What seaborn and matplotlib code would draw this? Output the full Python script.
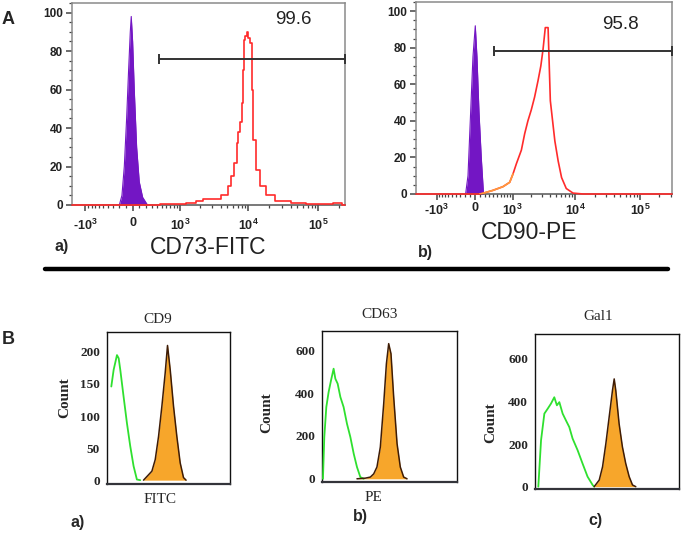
import matplotlib
matplotlib.use('Agg')
import seaborn as sns
import matplotlib.pyplot as plt
from matplotlib.lines import Line2D
from matplotlib.ticker import FixedLocator, MultipleLocator

# ---------------- data ----------------
# Panel A: flow cytometry (biexponential axis), % of events in gate
flow_xticks = [-1000, 0, 1000, 10000, 100000]
flow_xticklabels = ['-$10^{3}$', '0', '$10^{3}$', '$10^{4}$', '$10^{5}$']

# a) CD73-FITC
cd73_iso_x = [-200, -159, -123, -88, -59, -34, -20, 0, 24, 59, 98, 149, 226]
cd73_iso_y = [0, 5, 20, 45, 70, 90, 98, 85, 60, 30, 12, 4, 0]
cd73_x = [-1600, 300, 600, 1000, 1500, 2000, 2450, 3420, 4770, 5330, 5950, 6650,
          6990, 7400, 7800, 8270, 8500, 8700, 9200, 9730, 10300, 10900, 11500,
          12100, 13500, 16000, 20000, 27500, 53000, 80000, 120000, 200000, 240000]
cd73_y = [0, 0, 0.5, 0.5, 1, 2, 3, 3, 5, 10, 15, 22, 32, 38, 43, 53, 70, 86, 88,
          90, 87, 84, 60, 34, 18, 10, 5, 2, 1, 0.5, 0.5, 1, 0]
cd73_gate = [428, 240000]
cd73_gate_y = 76
cd73_pct = '99.6'

# b) CD90-PE
cd90_iso_x = [-181, -132, -86, -33, 13, 46, 86, 132, 178]
cd90_iso_y = [0, 10, 40, 75, 92, 75, 45, 20, 0]
cd90_x = [-2200, 100, 168, 388, 657, 885, 1015, 1160, 1410, 1600, 1805, 2045, 2310,
          2620, 2900, 3140, 3410, 3770, 4090, 4810, 5420, 6120, 7240, 9220, 13200,
          315000]
cd90_y = [0, 0, 0.4, 2, 4, 6.4, 11, 16.5, 24, 33, 40, 46, 53, 62, 70, 79, 91, 91,
          51, 29, 18, 9, 3, 0.5, 0, 0]
cd90_n_low = 7   # first points drawn in orange
cd90_gate = [403, 315000]
cd90_gate_y = 78
cd90_pct = '95.8'

# Panel B: exosome markers, control (green) vs stained (orange)
cd9_ctrl_x = [3.5, 5.4, 8.1, 9.5, 10.8, 13.5, 16.2, 18.9, 21.6, 24.3, 27.0]
cd9_ctrl_y = [146, 172, 195, 190, 172, 130, 89, 53, 22, 1, 0]
cd9_pos_x = [29.7, 36.5, 39.2, 41.9, 44.6, 47.3, 49.2, 51.4, 54.1, 56.8, 59.5, 62.2, 64.3]
cd9_pos_y = [0, 14, 32, 68, 115, 167, 210, 172, 115, 68, 27, 4, 0]

cd63_ctrl_x = [0.7, 1.7, 3.2, 4.9, 6.7, 8.6, 9.9, 11.6, 13.6, 16.0, 18.5, 21.0,
               23.5, 25.9, 28.4, 30.9]
cd63_ctrl_y = [0, 195, 335, 405, 460, 514, 467, 444, 382, 335, 257, 195, 117, 55, 8, 0]
cd63_pos_x = [25.9, 32.1, 35.8, 38.3, 40.7, 43.2, 45.7, 47.7, 49.4, 51.1, 53.1,
              55.6, 58.0, 60.5, 63.0]
cd63_pos_y = [0, 3, 8, 23, 55, 148, 350, 537, 631, 584, 382, 164, 55, 8, 0]

gal1_ctrl_x = [2.3, 4.2, 6.5, 8.8, 11.1, 13.4, 15.2, 16.9, 19.2, 21.5, 23.8, 26.1,
               29.6, 33.0, 36.5, 40.0, 41.1]
gal1_ctrl_y = [0, 218, 343, 366, 390, 420, 382, 397, 343, 311, 280, 226, 171, 109,
               47, 8, 0]
gal1_pos_x = [41.1, 44.6, 46.9, 49.2, 51.5, 53.8, 55.0, 56.1, 58.4, 60.7, 63.0,
              65.4, 67.7, 70.0]
gal1_pos_y = [0, 31, 93, 202, 327, 452, 506, 452, 296, 187, 109, 47, 8, 0]

# ---------------- style ----------------
sns.set_style('white')
plt.rcParams['font.family'] = ['Liberation Sans', 'DejaVu Sans']
plt.rcParams['mathtext.default'] = 'regular'

PURPLE = '#7316C4'
RED = '#FF2B2B'
ORANGE_LINE = '#FF9A3C'
GREEN = '#2FE02F'
FILL = '#F7A62B'
BROWN = '#3E1C06'

fig = plt.figure(figsize=(6.85, 5.35), dpi=100)
W, H = 685.0, 535.0


def rect(left, top, right, bottom):
    return [left / W, 1 - bottom / H, (right - left) / W, (bottom - top) / H]


def flow_panel(box, lin_w, xlim, iso_x, iso_y, x, y, n_low, steps, gate, gate_y,
               pct, pct_pos, xlabel, lab_pos, xpad):
    ax = fig.add_axes(box)
    ax.set_xscale('asinh', linear_width=lin_w)
    ax.fill_between(iso_x, iso_y, color=PURPLE, lw=0, zorder=2)
    sns.lineplot(x=iso_x, y=iso_y, ax=ax, color=PURPLE, lw=0.8, zorder=2)
    ds = 'steps-mid' if steps else 'default'
    sns.lineplot(x=x, y=y, ax=ax, color=RED, lw=1.2, drawstyle=ds, zorder=3,
                 clip_on=False)
    if n_low:
        sns.lineplot(x=x[1:n_low], y=y[1:n_low], ax=ax, color=ORANGE_LINE,
                     lw=1.2, zorder=4)
    ax.plot(gate, [gate_y, gate_y], color='#333333', lw=1.4, marker='|', ms=7,
            mew=1.4, clip_on=False, zorder=5)
    ax.text(pct_pos[0], pct_pos[1], pct, transform=ax.transAxes, ha='center',
            va='center', fontsize=13.5, color='#222222')
    ax.set_xlim(xlim)
    ax.set_ylim(0, 105)
    ax.xaxis.set_major_locator(FixedLocator(flow_xticks))
    ax.set_xticklabels(flow_xticklabels)
    minor = ([-k * 100 for k in range(1, 10)] + [k * 100 for k in range(1, 10)] +
             [m * 10 ** k for k in (3, 4, 5) for m in range(2, 10)])
    ax.xaxis.set_minor_locator(FixedLocator([v for v in minor if xlim[0] < v < xlim[1]]))
    ax.set_yticks([0, 20, 40, 60, 80, 100])
    ax.yaxis.set_minor_locator(MultipleLocator(5))
    ax.tick_params(which='major', direction='out', length=4.5, width=1.1,
                   color='#444444', labelsize=8.5, labelcolor='#222222', pad=2,
                   bottom=True, left=True)
    ax.tick_params(axis='x', which='major', pad=xpad, labelsize=9)
    ax.tick_params(which='minor', direction='out', length=2.5, width=0.9,
                   color='#444444', bottom=True, left=True)
    for lab in ax.get_xticklabels() + ax.get_yticklabels():
        lab.set_fontweight('bold')
    ax.set_xlabel(xlabel, fontsize=16.5, color='#222222', va='center')
    ax.xaxis.set_label_coords(*lab_pos)
    ax.set_ylabel('')
    for s in ax.spines.values():
        s.set_color('#8a8a8a')
        s.set_linewidth(1.1)
    ax.spines['bottom'].set_color('#555555')
    return ax


flow_panel(rect(72, 3, 345, 205), 444, (-1600, 240000), cd73_iso_x, cd73_iso_y,
           cd73_x, cd73_y, 0, True, cd73_gate, cd73_gate_y, cd73_pct,
           (0.81, 0.916), 'CD73-FITC', (0.5, -0.212), 4.5)
flow_panel(rect(416, 2, 672, 194), 552, (-2200, 315000), cd90_iso_x, cd90_iso_y,
           cd90_x, cd90_y, cd90_n_low, False, cd90_gate, cd90_gate_y, cd90_pct,
           (0.797, 0.885), 'CD90-PE', (0.44, -0.203), 1.5)

SERIF = ['Liberation Serif', 'DejaVu Serif']


def exo_panel(box, ylim, yticks, cx, cy, px, py, title, title_x, title_pad,
              xlabel, xlab_x, ylab_pos):
    ax = fig.add_axes(box)
    sns.lineplot(x=cx, y=cy, ax=ax, color=GREEN, lw=1.3, zorder=3)
    ax.fill_between(px, py, color=FILL, lw=0, zorder=2)
    sns.lineplot(x=px, y=py, ax=ax, color=BROWN, lw=1.1, zorder=4)
    ax.set_xlim(0, 100)
    ax.set_ylim(ylim)
    ax.set_xticks([])
    ax.set_yticks(yticks)
    ax.tick_params(axis='y', length=0, pad=5, labelsize=9.5)
    for lab in ax.get_yticklabels():
        lab.set_family(SERIF)
        lab.set_fontweight('bold')
    ax.set_title(title, x=title_x, pad=title_pad, fontsize=11, family=SERIF)
    ax.set_xlabel(xlabel, fontsize=11, family=SERIF, va='center')
    ax.xaxis.set_label_coords(xlab_x, -0.105)
    ax.set_ylabel('Count', fontsize=11, family=SERIF, fontweight='bold',
                  va='center')
    ax.yaxis.set_label_coords(*ylab_pos)
    for s in ax.spines.values():
        s.set_color('#111111')
        s.set_linewidth(1.0)
    ax.spines['bottom'].set_linewidth(1.6)
    ax.spines['bottom'].set_color('#33343a')
    return ax


exo_panel(rect(107, 332, 230, 484), (-6, 231), [0, 50, 100, 150, 200],
          cd9_ctrl_x, cd9_ctrl_y, cd9_pos_x, cd9_pos_y, 'CD9', 0.415, 6.5,
          'FITC', 0.43, (-0.34, 0.57))
exo_panel(rect(322, 331, 457, 482), (-15, 690), [0, 200, 400, 600],
          cd63_ctrl_x, cd63_ctrl_y, cd63_pos_x, cd63_pos_y, 'CD63', 0.43, 9,
          'PE', 0.38, (-0.41, 0.46))
exo_panel(rect(535, 334, 679, 489), (-11, 717), [0, 200, 400, 600],
          gal1_ctrl_x, gal1_ctrl_y, gal1_pos_x, gal1_pos_y, 'Gal1', 0.44, 10,
          '', 0.5, (-0.31, 0.43))

# panel letters and sub-labels
def ftext(x, y, s, size, **kw):
    fig.text(x / W, 1 - y / H, s, fontsize=size, ha='center', va='center', **kw)


ftext(8, 19, 'A', 13, fontweight='bold')
ftext(8, 340, 'B', 13, fontweight='bold')
ftext(62, 247, 'a)', 11.5, fontweight='bold')
ftext(425, 252, 'b)', 11.5, fontweight='bold')
ftext(78, 522, 'a)', 11.5, fontweight='bold')
ftext(360, 517, 'b)', 11.5, fontweight='bold')
ftext(595, 520, 'c)', 11.5, fontweight='bold')

# separator between A and B
fig.add_artist(Line2D([45 / W, 668 / W], [1 - 269 / H, 1 - 269 / H],
                      color='black', lw=3.2))

plt.savefig('out.png', dpi=100)
